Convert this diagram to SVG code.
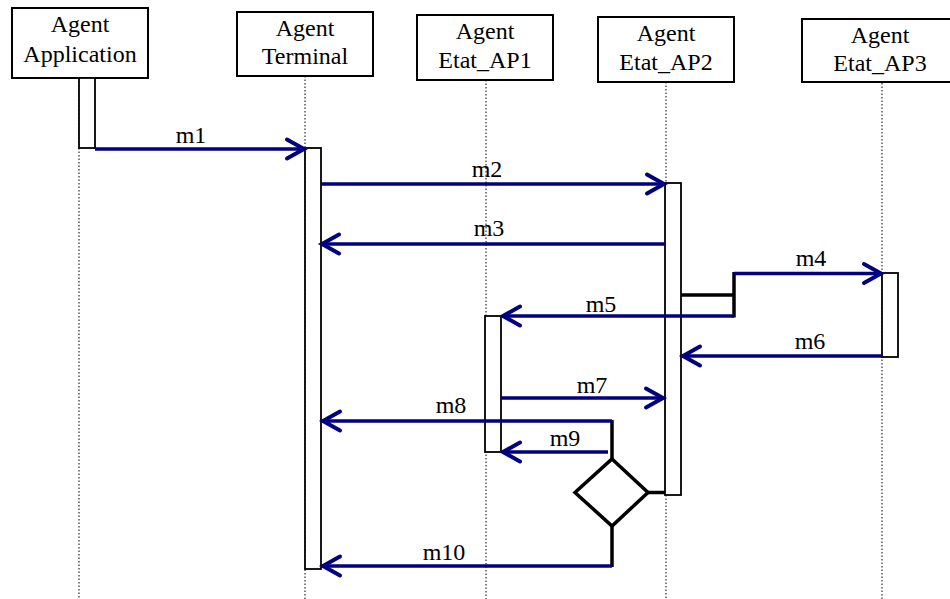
<svg xmlns="http://www.w3.org/2000/svg" width="950" height="599" viewBox="0 0 950 599">
<defs>
<style>
.box{fill:#fff;stroke:#000;stroke-width:2}
.act{fill:#fff;stroke:#000;stroke-width:1.8}
.life{stroke:#000;stroke-width:1;stroke-dasharray:1.5,2;fill:none}
.lbl{font-family:'Liberation Serif','Times New Roman',serif;font-size:24px;fill:#000;text-anchor:middle}
.msg{stroke:#000080;stroke-width:3.5;fill:none;marker-end:url(#arr)}
.blk{stroke:#000;stroke-width:3.5;fill:none}
</style>
<marker id="arr" viewBox="-22 -12 26 24" refX="0" refY="0" markerWidth="26" markerHeight="24" markerUnits="userSpaceOnUse" orient="auto" overflow="visible">
<path d="M-18,-9.5 L-1,0 L-18,9.5" fill="none" stroke="#000080" stroke-width="4" stroke-linecap="round" stroke-linejoin="miter"/>
</marker>
</defs>
<rect width="950" height="599" fill="#fff"/>
<g id="lifelines">
<line class="life" x1="79" y1="78" x2="79" y2="599"/>
<line class="life" x1="305" y1="76" x2="305" y2="599"/>
<line class="life" x1="486" y1="80" x2="486" y2="599"/>
<line class="life" x1="666" y1="82" x2="666" y2="599"/>
<line class="life" x1="882" y1="83" x2="882" y2="599"/>
</g>
<g id="agent-application">
<rect class="box" x="12" y="8" width="136" height="70"/>
<text class="lbl" x="80" y="32">Agent</text>
<text class="lbl" x="80" y="62">Application</text>
<rect class="act" x="79" y="78" width="16" height="70"/>
</g>
<g id="agent-terminal">
<rect class="box" x="237" y="12" width="136" height="64"/>
<text class="lbl" x="305" y="36">Agent</text>
<text class="lbl" x="305" y="64">Terminal</text>
<rect class="act" x="305" y="148" width="16" height="421"/>
</g>
<g id="agent-etat-ap1">
<rect class="box" x="417" y="15" width="136" height="65"/>
<text class="lbl" x="485" y="39">Agent</text>
<text class="lbl" x="485" y="68">Etat_AP1</text>
<rect class="act" x="485" y="316" width="16" height="136"/>
</g>
<g id="agent-etat-ap2">
<rect class="box" x="598" y="17" width="136" height="65"/>
<text class="lbl" x="666" y="41">Agent</text>
<text class="lbl" x="666" y="70">Etat_AP2</text>
<rect class="act" x="665" y="183" width="16" height="312"/>
</g>
<g id="agent-etat-ap3">
<rect class="box" x="802" y="19" width="160" height="63"/>
<text class="lbl" x="880" y="43">Agent</text>
<text class="lbl" x="880" y="71">Etat_AP3</text>
<rect class="act" x="882" y="273" width="16" height="84"/>
</g>
<g id="decision">
<polygon class="blk" points="612,459 648,492.5 612,526 575,492.5" fill="#fff"/>
</g>
<g id="connectors">
<line class="msg" x1="95" y1="149" x2="305" y2="149"/>
<line class="msg" x1="321" y1="184" x2="665" y2="184"/>
<line class="msg" x1="665" y1="244" x2="321" y2="244"/>
<polyline class="blk" points="681,295 734,295"/>
<line class="blk" x1="734" y1="272" x2="734" y2="317.5"/>
<line class="msg" x1="734" y1="273.5" x2="882" y2="273.5"/>
<line class="msg" x1="734" y1="316" x2="502" y2="316"/>
<line class="msg" x1="882" y1="356" x2="682" y2="356"/>
<line class="msg" x1="501" y1="398" x2="664" y2="398"/>
<line class="blk" x1="612" y1="420" x2="612" y2="459"/>
<line class="msg" x1="612" y1="421" x2="322" y2="421"/>
<line class="msg" x1="608" y1="452" x2="502" y2="452"/>
<line class="blk" x1="648" y1="492.5" x2="665" y2="492.5"/>
<line class="blk" x1="612" y1="526" x2="612" y2="567"/>
<line class="msg" x1="612" y1="566" x2="322" y2="566"/>
</g>
<g id="labels">
<text class="lbl" x="191" y="143">m1</text>
<text class="lbl" x="487" y="177">m2</text>
<text class="lbl" x="489" y="236">m3</text>
<text class="lbl" x="811" y="266">m4</text>
<text class="lbl" x="601" y="312">m5</text>
<text class="lbl" x="810" y="349">m6</text>
<text class="lbl" x="592" y="393">m7</text>
<text class="lbl" x="451" y="413">m8</text>
<text class="lbl" x="565" y="446">m9</text>
<text class="lbl" x="444" y="560">m10</text>
</g>
</svg>
